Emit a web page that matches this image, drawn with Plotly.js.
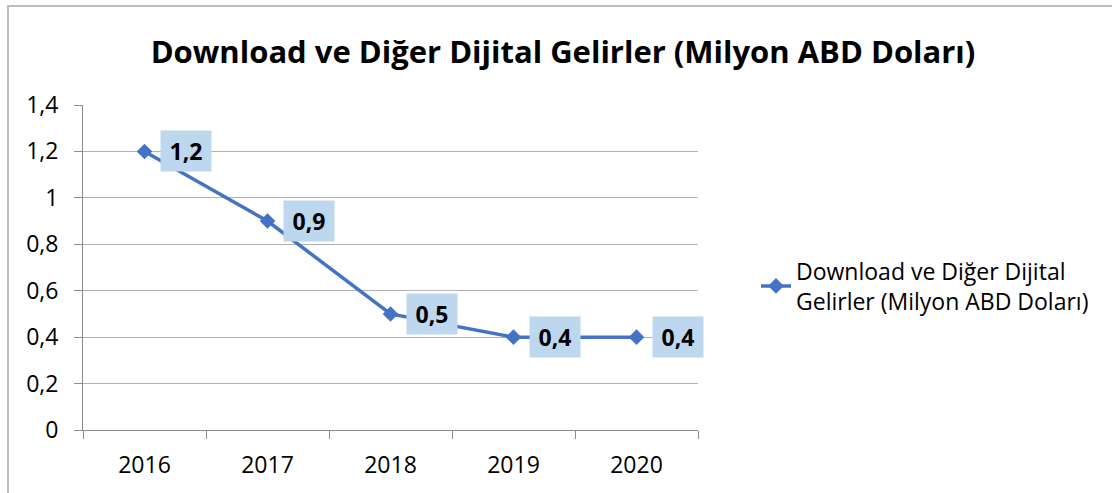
<!DOCTYPE html>
<html>
<head>
<meta charset="utf-8">
<script src="https://cdn.plot.ly/plotly-3.0.1.min.js"></script>
<style>
html,body{margin:0;padding:0;background:#fff;}
#chart{width:1112px;height:493px;position:absolute;left:0;top:0;}
#frame{position:absolute;left:7px;top:5px;width:1200px;height:600px;border-left:2px solid #bdbdbd;border-top:2px solid #bdbdbd;pointer-events:none;}
</style>
</head>
<body>
<div id="chart"></div>
<div id="frame"></div>
<script>
const years = ['2016', '2017', '2018', '2019', '2020'];
const values = [1.2, 0.9, 0.5, 0.4, 0.4];
const labels = ['1,2', '0,9', '0,5', '0,4', '0,4'];
const seriesName = 'Download ve Diğer Dijital<br>Gelirler (Milyon ABD Doları)';
const chartTitle = 'Download ve Diğer Dijital Gelirler (Milyon ABD Doları)';

const FONT = 'Open Sans, sans-serif';

const trace = {
  x: years,
  y: values,
  type: 'scatter',
  mode: 'lines+markers',
  name: seriesName,
  line: {color: '#4472C4', width: 3.5},
  marker: {symbol: 'diamond', size: 12, color: '#4472C4'},
  cliponaxis: false
};

const annotations = years.map((yr, i) => ({
  x: i, y: values[i], xref: 'x', yref: 'y',
  text: '<b>' + labels[i] + '</b>',
  showarrow: false,
  xanchor: 'left', yanchor: 'middle',
  xshift: 15,
  bgcolor: '#BDD7EE',
  width: 46, height: 36, borderpad: 2,
  font: {family: FONT, size: 23, color: '#000'}
}));

const layout = {
  width: 1112, height: 493,
  margin: {l: 83, r: 414, t: 105, b: 63},
  paper_bgcolor: '#fff', plot_bgcolor: '#fff',
  separators: ', ',
  title: {
    text: '<b>' + chartTitle + '</b>',
    font: {family: FONT, size: 31, color: '#000'},
    x: 563 / 1112, xanchor: 'center', xref: 'container',
    y: 1 - 52 / 493, yanchor: 'middle', yref: 'container'
  },
  xaxis: {
    type: 'category',
    range: [-0.5, years.length - 0.5],
    autorange: false,
    tickson: 'boundaries',
    tickangle: 0,
    ticks: 'outside', ticklen: 8, tickcolor: '#8c8c8c', tickwidth: 1,
    showline: true, linecolor: '#8c8c8c', linewidth: 1,
    showgrid: false,
    ticklabelstandoff: 14,
    tickfont: {family: FONT, size: 23, color: '#000'},
    fixedrange: true
  },
  yaxis: {
    range: [0, 1.4], dtick: 0.2,
    autorange: false,
    ticks: 'outside', ticklen: 8, tickcolor: '#8c8c8c', tickwidth: 1,
    showline: true, linecolor: '#8c8c8c', linewidth: 1,
    gridcolor: '#b3b3b3', gridwidth: 1,
    zeroline: false,
    ticklabelstandoff: 11,
    tickfont: {family: FONT, size: 23, color: '#000'},
    fixedrange: true
  },
  showlegend: true,
  legend: {
    x: (756 - 83) / 615, y: (430 - 286) / 325,
    xanchor: 'left', yanchor: 'middle',
    font: {family: FONT, size: 23, color: '#000'},
    bgcolor: 'rgba(0,0,0,0)'
  },
  annotations: annotations
};

Plotly.newPlot('chart', [trace], layout, {displayModeBar: false, staticPlot: true});
</script>
</body>
</html>
